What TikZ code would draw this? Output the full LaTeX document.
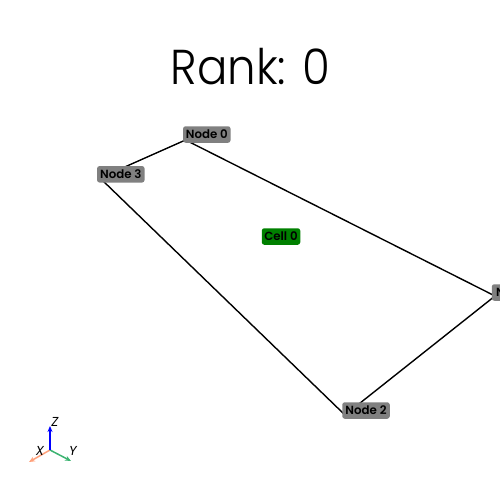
\documentclass[tikz,border=0pt]{standalone}
\usepackage{fontspec}
\setmainfont{Poppins}
\newfontfamily\titlefont[FakeStretch=0.92]{Poppins Light}
\newfontfamily\labfont{Poppins SemiBold}
\usetikzlibrary{arrows.meta,backgrounds}
\definecolor{xaxis}{RGB}{255,160,122}
\definecolor{yaxis}{RGB}{60,179,113}
\definecolor{cellgreen}{RGB}{0,128,0}
\tikzset{
  lab/.style={rounded corners=2.5pt,inner sep=0pt,minimum height=16.5pt,text=black,font=\labfont\fontsize{11.8}{12}\selectfont},
  gray lab/.style={lab,fill=gray,minimum width=47.5pt},
  cell lab/.style={lab,fill=cellgreen,minimum width=38.5pt},
  edge line/.style={draw=black,line width=1.4pt},
  axis line/.style={line width=1.5pt,-{Stealth[length=6pt,width=5pt]}},
  axis label/.style={font=\fontsize{13}{13}\selectfont\itshape,inner sep=0pt}
}
\begin{document}
\begin{tikzpicture}[x=1pt,y=-1pt]
\useasboundingbox (0,0) rectangle (500,500);
\clip (0,0) rectangle (500,500);
\node[font=\titlefont\fontsize{49}{49}\selectfont,inner sep=0pt] (title) at (250.5,67) {Rank: 0};
\coordinate (v0) at (185.5,140);
\coordinate (v1) at (495,296);
\coordinate (v2) at (345,415);
\coordinate (v3) at (100,178);
\draw[edge line] (v0) -- (v1) -- (v2) -- (v3) -- cycle;
\node[gray lab] (n0) at (206.8,134.5) {Node 0};
\node[gray lab] (n1) at (515.5,292.5) {Node 1};
\node[gray lab] (n2) at (366,410.5) {Node 2};
\node[gray lab] (n3) at (120.8,174.3) {Node 3};
\node[cell lab] (c0) at (281,236.5) {Cell 0};
\coordinate (o) at (50,450);
\coordinate (tx) at (29,462);
\coordinate (ty) at (71,461);
\coordinate (tz) at (50,426);
\draw[axis line,color=xaxis] (o) -- (tx);
\draw[axis line,color=yaxis] (o) -- (ty);
\draw[axis line,color=blue] (o) -- (tz);
\node[axis label] (lx) at (40,451) {X};
\node[axis label] (ly) at (73,451) {Y};
\node[axis label] (lz) at (55,422) {Z};
\end{tikzpicture}
\end{document}
